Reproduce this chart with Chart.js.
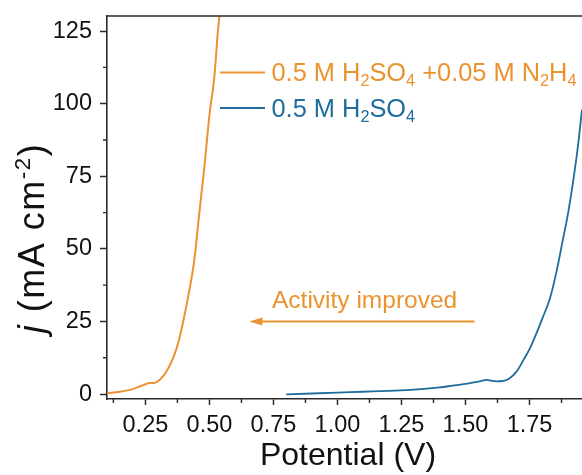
<!DOCTYPE html>
<html><head><meta charset="utf-8">
<script src="https://cdn.jsdelivr.net/npm/chart.js@4/dist/chart.umd.min.js"></script>
<style>html,body{margin:0;padding:0;background:#fff;overflow:hidden;} canvas{display:block;}</style>
</head><body>
<canvas id="c" width="582" height="475"></canvas>
<script>
// ---- data ----
const potentialN2H4 = [0.10, 0.15, 0.20, 0.23, 0.25, 0.265, 0.28, 0.30, 0.32, 0.34, 0.36, 0.38, 0.40, 0.42, 0.44, 0.46, 0.48, 0.50, 0.52, 0.533, 0.54];
const currentN2H4   = [0.3,  0.8,  1.7,  2.7,  3.4,  3.8,   3.8,  4.5,  6.3,  9.0,  12.8, 18.2, 26.0, 35.0, 45.5, 62,   78,   96,   110,  125,   131];
const potentialH2SO4 = [0.80, 0.90, 1.00, 1.10, 1.20, 1.30, 1.40, 1.45, 1.50, 1.55, 1.585, 1.60, 1.62, 1.645, 1.67, 1.70, 1.725, 1.75, 1.775, 1.80, 1.83, 1.855, 1.88, 1.90, 1.92, 1.94, 1.955, 1.965];
const currentH2SO4   = [-0.1, 0.2,  0.5,  0.8,  1.1,  1.5,  2.3,  2.9,  3.5,  4.3,  4.9,   4.6,  4.4,  4.5,   5.3,  7.8,  11.5,  15.5, 20.5,  26,   33,   42,    53,   62,   73,   86,   98,    106];
const xTickValues = [0.25, 0.50, 0.75, 1.00, 1.25, 1.50, 1.75];
const xMinorTickValues = [0.125, 0.375, 0.625, 0.875, 1.125, 1.375, 1.625, 1.875];
const yTickValues = [0, 25, 50, 75, 100, 125];
const yMinorTickValues = [12.5, 37.5, 62.5, 87.5, 112.5];
const legendN2H4 = [["0.5 M H", 0], ["2", 1], ["SO", 0], ["4", 1], [" +0.05 M N", 0], ["2", 1], ["H", 0], ["4", 1]];
const legendH2SO4 = [["0.5 M H", 0], ["2", 1], ["SO", 0], ["4", 1]];
const xTitle = "Potential (V)";
const yTitle = [["j", "italic"], [" (mA cm", ""], ["-2", "sup"], [")", ""]];
const annotationText = "Activity improved";
const arrowFrom = {x: 1.535, y: 25};
const arrowTo = {x: 0.656, y: 25};

const ORANGE = '#EA932F', BLUE = '#1F6C9D', AXIS = '#2a2a2a', TEXT = '#111111';
const FONT = '"Liberation Sans", Arial, Helvetica, sans-serif';

function pts(xs, ys) { return xs.map((x, i) => ({x: x, y: ys[i]})); }

function drawRich(ctx, segs, x, y, size, color) {
  let cx = x;
  ctx.fillStyle = color;
  ctx.textBaseline = 'alphabetic';
  ctx.textAlign = 'left';
  for (const [t, sub] of segs) {
    const s = sub ? size * 0.64 : size;
    ctx.font = s + 'px ' + FONT;
    ctx.fillText(t, cx, sub ? y + size * 0.2 : y);
    cx += ctx.measureText(t).width;
  }
}

const decor = {
  id: 'decor',
  afterDraw(chart) {
    const ctx = chart.ctx, a = chart.chartArea;
    const xs = chart.scales.x, ys = chart.scales.y;
    ctx.save();
    // top frame
    ctx.strokeStyle = AXIS; ctx.lineWidth = 1.6;
    ctx.beginPath(); ctx.moveTo(a.left - 0.8, a.top); ctx.lineTo(a.right, a.top); ctx.stroke();
    // minor ticks
    ctx.lineWidth = 1.4;
    ctx.beginPath();
    for (const v of xMinorTickValues) {
      const px = xs.getPixelForValue(v);
      if (px < a.left || px > a.right) continue;
      ctx.moveTo(px, a.bottom); ctx.lineTo(px, a.bottom + 4);
    }
    for (const v of yMinorTickValues) {
      const py = ys.getPixelForValue(v);
      ctx.moveTo(a.left, py); ctx.lineTo(a.left - 4, py);
    }
    ctx.stroke();
    // x title
    ctx.fillStyle = TEXT;
    ctx.font = '32px ' + FONT;
    ctx.textAlign = 'center'; ctx.textBaseline = 'alphabetic';
    ctx.fillText(xTitle, 348, 465);
    // y title (rotated)
    ctx.save();
    ctx.translate(44, 238);
    ctx.rotate(-Math.PI / 2);
    const ySize = 36;
    const gap = 1.5;
    let total = 0;
    const parts = yTitle.map(([t, st]) => {
      const f = (st === 'italic' ? 'italic ' : '') + (st === 'sup' ? ySize * 0.62 : ySize) + 'px ' + FONT;
      ctx.font = f;
      const w = ctx.measureText(t).width + gap * t.length;
      total += w;
      return {t, f, w, st};
    });
    let cx = -total / 2;
    ctx.textAlign = 'left';
    for (const p of parts) {
      ctx.font = p.f;
      let px = cx;
      for (const ch of p.t) {
        ctx.fillText(ch, px, p.st === 'sup' ? -ySize * 0.38 : 0);
        px += ctx.measureText(ch).width + gap;
      }
      cx += p.w;
    }
    ctx.restore();
    // legend
    ctx.lineWidth = 1.9;
    ctx.strokeStyle = ORANGE;
    ctx.beginPath(); ctx.moveTo(220, 72.5); ctx.lineTo(265, 72.5); ctx.stroke();
    drawRich(ctx, legendN2H4, 271.5, 81, 25.4, ORANGE);
    ctx.strokeStyle = BLUE;
    ctx.beginPath(); ctx.moveTo(220, 108); ctx.lineTo(265, 108); ctx.stroke();
    drawRich(ctx, legendH2SO4, 271.5, 116.5, 25.4, BLUE);
    // arrow annotation
    const x1 = xs.getPixelForValue(arrowFrom.x), y1 = ys.getPixelForValue(arrowFrom.y);
    const x2 = xs.getPixelForValue(arrowTo.x);
    ctx.strokeStyle = ORANGE; ctx.fillStyle = ORANGE; ctx.lineWidth = 1.9;
    ctx.beginPath(); ctx.moveTo(x1, y1); ctx.lineTo(x2 + 10, y1); ctx.stroke();
    ctx.beginPath(); ctx.moveTo(x2, y1); ctx.lineTo(x2 + 13, y1 - 4); ctx.lineTo(x2 + 13, y1 + 4); ctx.closePath(); ctx.fill();
    ctx.font = '24.5px ' + FONT;
    ctx.textAlign = 'left';
    ctx.fillText(annotationText, 272, 308);
    ctx.restore();
  }
};

new Chart(document.getElementById('c'), {
  type: 'line',
  data: {
    datasets: [
      {label: '0.5 M H2SO4 +0.05 M N2H4', data: pts(potentialN2H4, currentN2H4), borderColor: ORANGE, borderWidth: 2, pointRadius: 0, cubicInterpolationMode: 'monotone', fill: false},
      {label: '0.5 M H2SO4', data: pts(potentialH2SO4, currentH2SO4), borderColor: BLUE, borderWidth: 1.8, pointRadius: 0, cubicInterpolationMode: 'monotone', fill: false}
    ]
  },
  options: {
    responsive: false,
    animation: false,
    devicePixelRatio: 1,
    layout: {padding: {top: 16, right: 0, left: 0, bottom: 0}},
    plugins: {legend: {display: false}, tooltip: {enabled: false}},
    scales: {
      x: {
        type: 'linear', min: 0.1, max: 1.955,
        afterBuildTicks: (s) => { s.ticks = xTickValues.map(v => ({value: v})); },
        afterFit: (s) => { s.height = 76; s.paddingLeft = 0; s.paddingRight = 0; },
        grid: {display: true, drawOnChartArea: false, drawTicks: true, tickLength: 6, tickWidth: 1.5, tickColor: AXIS},
        border: {display: true, color: AXIS, width: 1.6},
        ticks: {color: TEXT, font: {family: FONT, size: 23.5}, padding: 6, maxRotation: 0, autoSkip: false, callback: (v) => Number(v).toFixed(2)}
      },
      y: {
        type: 'linear', min: -1.7, max: 130.2,
        afterBuildTicks: (s) => { s.ticks = yTickValues.map(v => ({value: v})); },
        afterFit: (s) => { s.width = 107; s.paddingTop = 0; s.paddingBottom = 0; },
        grid: {display: true, drawOnChartArea: false, drawTicks: true, tickLength: 7, tickWidth: 1.5, tickColor: AXIS},
        border: {display: true, color: AXIS, width: 1.6},
        ticks: {color: TEXT, font: {family: FONT, size: 23.5}, padding: 8, autoSkip: false, callback: (v) => String(v)}
      }
    }
  },
  plugins: [decor]
});
</script>
</body></html>
